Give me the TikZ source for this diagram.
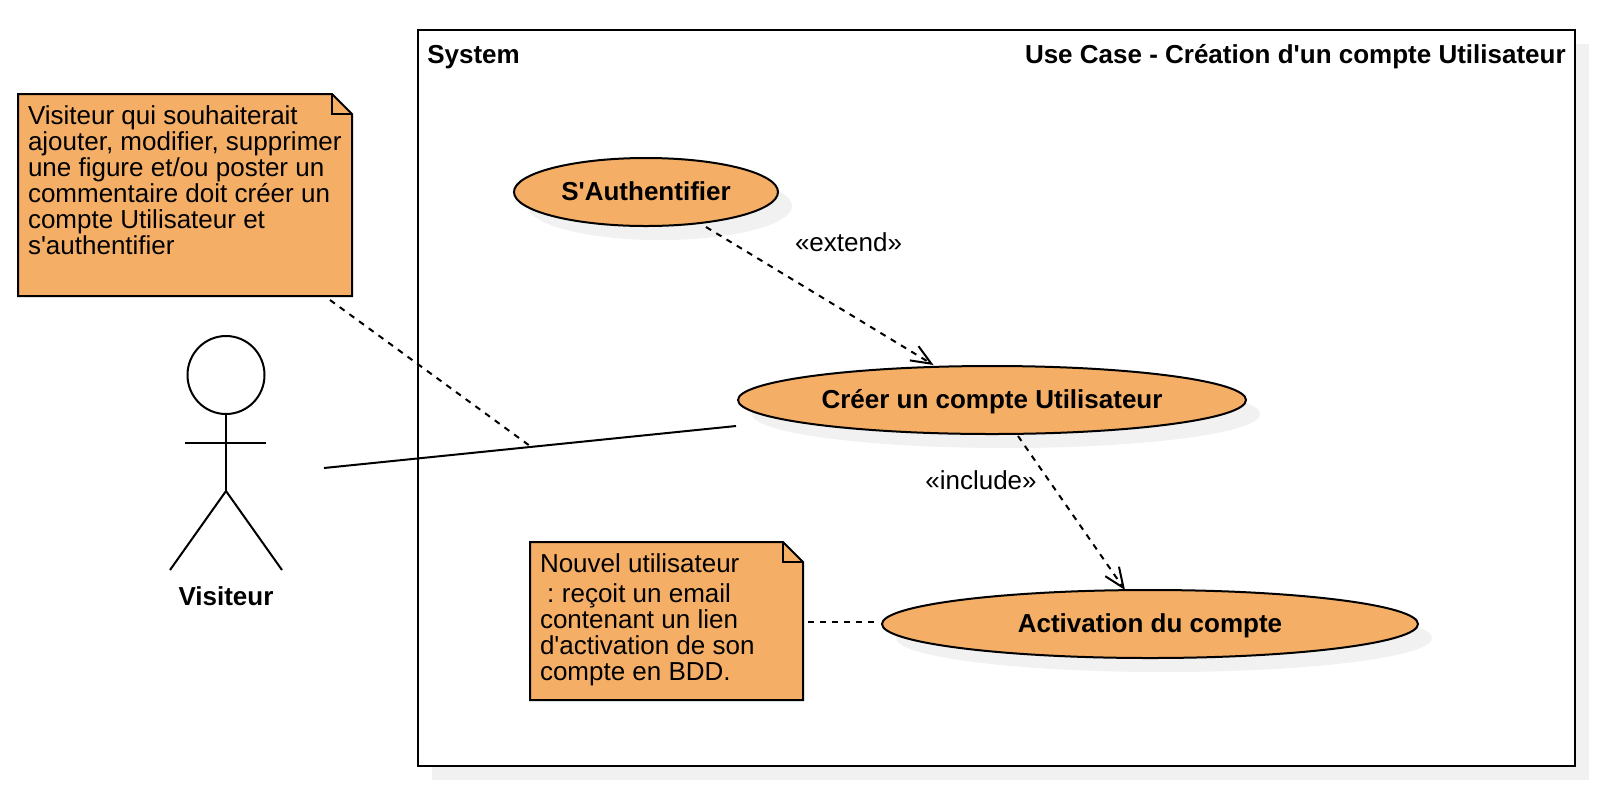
\documentclass[tikz,border=0pt]{standalone}
\usepackage{fontspec}
\setmainfont{Liberation Sans}[Ligatures=TeXOff]
\usetikzlibrary{shapes.geometric,shadows,arrows.meta,calc}
\definecolor{ucfill}{HTML}{F4AE66}
\definecolor{shadowgray}{HTML}{F1F1F1}
\tikzset{
  x=0.75pt,y=-0.75pt,
  ln/.style={line width=1.5pt,draw=black},
  usecase/.style={ellipse,ln,fill=ucfill,inner sep=0pt,outer sep=0pt,font=\bfseries\ucsize,text height=15pt,text depth=2.3pt,
    drop shadow={shadow xshift=10.5pt,shadow yshift=-10.5pt,fill=shadowgray,opacity=1}},
  notetxt/.style={anchor=north west,align=left,inner sep=0pt,outer sep=0pt,font=\ucsize},
  notebody/.style={ln,fill=ucfill,line join=miter},
  dashline/.style={ln,dash pattern=on 4.5pt off 4.5pt},
  openarrow/.style={-{Straight Barb[length=15pt,width=12.5pt,line width=1.5pt]}},
  lbl/.style={font=\ucsize,inner sep=0pt},
  blbl/.style={font=\bfseries\ucsize,inner sep=0pt},
}
\newcommand{\ucsize}{\fontsize{19.5pt}{19.5pt}\selectfont}
\begin{document}
\begin{tikzpicture}
\useasboundingbox (0,0) rectangle (1598,790);
% system frame
\fill[shadowgray] (432,44) rectangle (1589,780);
\node[ln,fill=white,rectangle,inner sep=0pt,outer sep=0pt,minimum width=867.75pt,minimum height=552pt,anchor=north west] (frame) at (418,30) {};
\node[blbl,anchor=base west] (sys) at (427,63) {System};
\node[blbl,anchor=base east] (title) at (1566,63) {Use Case - Création d'un compte Utilisateur};
% note 1
\draw[notebody] (18,94) -- (332,94) -- (352,114) -- (352,296) -- (18,296) -- cycle;
\draw[ln,line join=miter] (332,94) -- (332,114) -- (352,114);
\node[notetxt] (n1) at (28,106) {Visiteur qui souhaiterait\\ajouter, modifier, supprimer\\une figure et/ou poster un\\commentaire doit créer un\\compte Utilisateur et\\s'authentifier};
% note 2
\draw[notebody] (530,542) -- (783,542) -- (803,562) -- (803,700) -- (530,700) -- cycle;
\draw[ln,line join=miter] (783,542) -- (783,562) -- (803,562);
\node[notetxt] (n2) at (540,554) {Nouvel utilisateur\\[3pt]\hspace*{5.4pt}:\hspace{-1.6pt} reçoit un email\\contenant un lien\\d'activation de son\\compte en BDD.};
% use cases
\node[usecase,minimum width=198pt,minimum height=51pt] (auth) at (646,192) {S'Authentifier};
\node[usecase,minimum width=381pt,minimum height=51pt] (creer) at (992,400) {Créer un compte Utilisateur};
\node[usecase,minimum width=402pt,minimum height=51pt] (activ) at (1150,624) {Activation du compte};
% actor
\draw[ln,fill=white] (226,375) ellipse [x radius=38.5,y radius=39];
\coordinate (neck) at (226,414);
\coordinate (hip) at (226,491);
\coordinate (armL) at (185,443);
\coordinate (armR) at (266,443);
\coordinate (legL) at (170,570);
\coordinate (legR) at (282,570);
\draw[ln] (neck) -- (hip);
\draw[ln] (armL) -- (armR);
\draw[ln] (legL) -- (hip) -- (legR);
\node[blbl] (vis) at (226,596) {Visiteur};
% free ends
\coordinate (a1) at (324,468);
\coordinate (a2) at (736,426);
\coordinate (d1) at (330,300);
\coordinate (d2) at (530,446);
\coordinate (e1) at (706,227);
\coordinate (e2) at (933.5,365);
\coordinate (i1) at (1018,436);
\coordinate (i2) at (1125,590);
\coordinate (c1) at (808,622);
\coordinate (c2) at (876,622);
\draw[ln] (a1) -- (a2);
\draw[dashline] (d1) -- (d2);
\draw[dashline,openarrow] (e1) -- (e2);
\draw[dashline,openarrow] (i1) -- (i2);
\draw[dashline] (c1) -- (c2);
\node[lbl] (lext) at (848.5,242) {«extend»};
\node[lbl] (linc) at (981,480.5) {«include»};
\end{tikzpicture}
\end{document}
